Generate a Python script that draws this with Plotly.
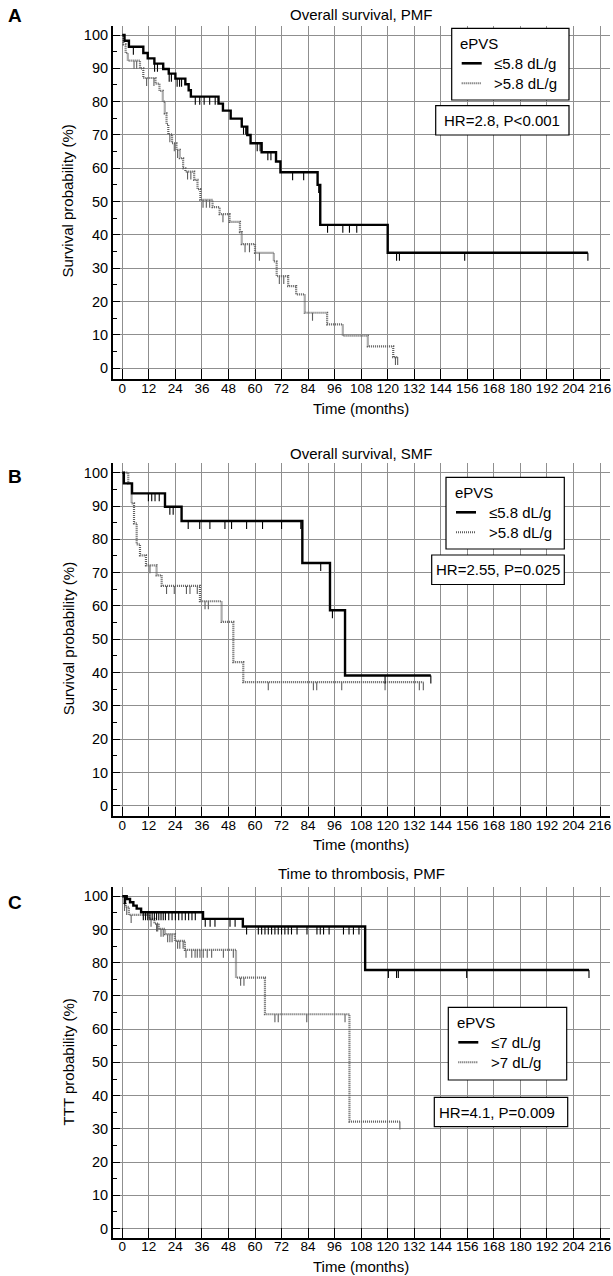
import numpy as np
import plotly.graph_objects as go

# ---------------- DATA ----------------
x_ticks = list(range(0, 217, 12))
y_ticks = list(range(0, 101, 10))

# Panel A: Overall survival, PMF
a_low_t = [0, 1.0, 3.0, 9.5, 11.5, 14.5, 18.5, 21, 24, 28.5, 30, 31, 43.5, 45.5, 49, 54, 56.5, 58, 63, 69.5, 71.5, 88.3, 89.5, 120]
a_low_s = [100, 98.3, 96.5, 94.6, 93.0, 91.4, 89.8, 88.4, 86.9, 85.2, 83.4, 81.5, 79.4, 77.3, 74.9, 72.5, 70.0, 67.5, 64.8, 62.0, 58.8, 55.0, 43.0, 34.6]
a_low_cens = [5, 14.6, 15.9, 21.2, 22.2, 24.8, 25.9, 26.8, 33, 35, 37, 39.5, 42, 54.8, 55.8, 61, 62.3, 65.8, 67.2, 77, 82, 88.8, 92.8, 99.7, 102.7, 106, 124, 125.3, 154.8, 210.5]
a_high_t = [0, 0.5, 1.5, 2.5, 8.0, 9.5, 15.0, 16.8, 18.3, 19.2, 20.0, 20.8, 22.5, 24.5, 26, 27.5, 28.5, 32.5, 34, 35.3, 40.8, 44, 48.5, 53.2, 54, 60, 68.5, 69.8, 75, 78.6, 82.5, 92.6, 99.7, 111, 122.5]
a_high_s = [100, 97.2, 94.6, 92.3, 90.0, 87.1, 85.4, 83.2, 80.0, 76.5, 73.2, 70.2, 67.5, 65.5, 63, 60, 59, 56.5, 53.7, 50.5, 48.3, 46.2, 43.9, 40.8, 37.2, 34.6, 32, 27.6, 24.6, 22.1, 16.6, 13.1, 9.7, 6.5, 3.3]
a_high_cens = [5.3, 6.5, 11, 14.3, 21.5, 23.5, 25, 29.5, 31, 36.5, 38, 39.5, 45.5, 55.5, 57.5, 62, 71, 73, 86, 123.5, 124.5]

# Panel B: Overall survival, SMF
b_low_t = [0, 0.7, 4.4, 19.3, 26.8, 81.4, 93.9, 100.7]
b_low_s = [100, 96.8, 93.8, 89.8, 85.5, 72.9, 58.7, 39.1]
b_low_cens = [11.8, 13.3, 14.8, 16.7, 21.5, 23, 29.8, 35, 39.6, 46.4, 49.4, 56.2, 63.4, 72, 80.7, 89.7, 95, 118.8, 139.5]
b_high_t = [0, 2.7, 4.2, 5.3, 6.5, 8.0, 10.7, 15.5, 17.8, 35.1, 44.9, 50.2, 54.7]
b_high_s = [100, 96.8, 90.8, 84.8, 78.5, 75.2, 72.2, 69.2, 66.0, 61.4, 55.2, 43.1, 37.1]
b_high_cens = [12.5, 20, 23.5, 29, 30.6, 33.9, 37.4, 38.9, 66, 86.4, 87.9, 99.2, 118.8, 134.3, 136.1]

# Panel C: Time to thrombosis, PMF
c_low_t = [0, 2.0, 3.5, 5.0, 6.5, 8.5, 36.5, 54.5, 109.8]
c_low_s = [100, 99.2, 98.2, 97.2, 96.3, 95.2, 93.2, 90.9, 77.8]
c_low_cens = [1.0, 1.5, 9.5, 10.5, 11.5, 12.5, 13.5, 14.5, 15.5, 16.5, 17.5, 18.5, 19.5, 21, 22.5, 24, 25.5, 27, 28.5, 30, 31.5, 33,
              37.5, 39.7, 41.9, 48.7, 51, 56.2, 61.5, 63, 64.5, 66, 67.5, 69, 70.5, 72, 73.5, 75, 76.5, 79, 83.5, 88, 89.5, 91,
              93.5, 100, 102.5, 104.5, 107, 120.3, 124, 124.8, 155.7, 211]
c_high_t = [0, 0.8, 1.5, 3.0, 12.2, 14.5, 16.5, 19.3, 23.8, 28.3, 51.4, 64.5, 102.7]
c_high_s = [100, 98, 96.8, 94.4, 93.2, 91.8, 90.2, 88.6, 86.6, 83.9, 75.5, 64.5, 32.2]
c_high_cens = [1.0, 2.0, 4.0, 13, 15.5, 16, 17.5, 18.5, 20.5, 21.5, 22.5, 25, 26, 27.5, 28.8, 31.4, 32.9, 33.9, 35.1, 36.6,
               38.4, 40.4, 45.7, 50.2, 53.5, 55, 69, 70.5, 83.4, 100.7, 125.5]

titles = ["Overall survival, PMF", "Overall survival, SMF", "Time to thrombosis, PMF"]
ytitles = ["Survival probability (%)", "Survival probability (%)", "TTT probability (%)"]
letters = ["A", "B", "C"]
legend_labels = [["≤5.8 dL/g", ">5.8 dL/g"], ["≤5.8 dL/g", ">5.8 dL/g"], ["≤7 dL/g", ">7 dL/g"]]
hr_texts = ["HR=2.8, P<0.001", "HR=2.55, P=0.025", "HR=4.1, P=0.009"]

# ---------------- LAYOUT CONSTANTS ----------------
W, H = 613, 1276
FONT = "Liberation Sans, Arial, sans-serif"
X_LEFT, X_RIGHT = 112.7, 610.0
X_RANGE = [-4.34, 220.5]
Y_RANGES = [[-3.2, 102.8], [-3.2, 102.8], [-2.7, 102.8]]
# pixel tops/bottoms of each panel's plot area
panel_px = [(25.7, 378.7), (463.4, 816.4), (887.0, 1237.5)]
title_py = [15, 453.5, 873.5]
xtitle_py = [408, 844, 1266]
letter_py = [16, 476, 902]
legend_boxes = [(451.7, 28.3, 569, 100), (446, 477.3, 564.3, 549), (448.3, 1007.3, 566.7, 1080)]
hr_boxes = [(435.7, 105.7, 569, 135), (431.7, 555, 564.3, 584.5), (434.3, 1097.3, 567.7, 1126.7)]

def px(x):
    return x / W

def py(y):
    return 1 - y / H

BLACK = "#000000"
GRAY = "#5f5f5f"
GRID = "#8f8f8f"

fig = go.Figure()

curves = [
    (a_low_t, a_low_s, a_low_cens, a_high_t, a_high_s, a_high_cens),
    (b_low_t, b_low_s, b_low_cens, b_high_t, b_high_s, b_high_cens),
    (c_low_t, c_low_s, c_low_cens, c_high_t, c_high_s, c_high_cens),
]


def step_value(ts, ss, t):
    idx = np.searchsorted(np.array(ts), t, side="right") - 1
    return float(np.array(ss)[max(idx, 0)])


def add_km(i, ts, ss, cens, color, width, dash):
    xa = "x" if i == 0 else f"x{i+1}"
    ya = "y" if i == 0 else f"y{i+1}"
    end = max(max(cens), ts[-1])
    xs = list(ts) + [end]
    ys = list(ss) + [ss[-1]]
    fig.add_trace(go.Scatter(x=xs, y=ys, mode="lines", line=dict(color=color, width=width, dash=dash, shape="hv"),
                             xaxis=xa, yaxis=ya, showlegend=False, hoverinfo="skip"))
    cy = [step_value(ts, ss, c) for c in cens]
    fig.add_trace(go.Scatter(x=cens, y=cy, mode="markers", marker=dict(size=2, color="rgba(0,0,0,0)"),
                             error_y=dict(type="data", symmetric=False, array=[0] * len(cens),
                                          arrayminus=[2.4] * len(cens), width=0, thickness=1.1, color=color),
                             xaxis=xa, yaxis=ya, showlegend=False, hoverinfo="skip"))


for i, (lt, ls, lc, ht, hs, hc) in enumerate(curves):
    add_km(i, ht, hs, hc, GRAY, 2.2, "1px,1px")
    add_km(i, lt, ls, lc, BLACK, 2.4, "solid")

xtick_font = dict(family=FONT, size=13.5, color="black")
ytick_font = dict(family=FONT, size=14.5, color="black")
layout = dict(width=W, height=H, autosize=False, margin=dict(l=0, r=0, t=0, b=0),
              paper_bgcolor="white", plot_bgcolor="white", font=dict(family=FONT, color="black"))

for i, (top, bot) in enumerate(panel_px):
    xk = "xaxis" if i == 0 else f"xaxis{i+1}"
    yk = "yaxis" if i == 0 else f"yaxis{i+1}"
    yid = "y" if i == 0 else f"y{i+1}"
    xid = "x" if i == 0 else f"x{i+1}"
    layout[xk] = dict(domain=[px(X_LEFT), px(X_RIGHT)], anchor=yid, range=X_RANGE, tickvals=x_ticks,
                      ticks="inside", ticklen=10, tickcolor="black", tickwidth=1, ticklabelstandoff=-4,
                      showgrid=True, gridcolor=GRID, gridwidth=1, zeroline=False,
                      showline=True, linecolor="black", linewidth=1.5, tickfont=xtick_font, automargin=False)
    layout[yk] = dict(domain=[py(bot), py(top)], anchor=xid, range=Y_RANGES[i], tickvals=y_ticks,
                      ticks="inside", ticklen=8, tickcolor="black", tickwidth=1,
                      minor=dict(tickvals=list(range(5, 100, 10)), ticks="inside", ticklen=5, tickcolor="black", showgrid=False),
                      showgrid=True, gridcolor=GRID, gridwidth=1, zeroline=False,
                      showline=True, linecolor="black", linewidth=1.5, tickfont=ytick_font, automargin=False)

fig.update_layout(**layout)

shapes = []
annotations = []
cx = px((X_LEFT + X_RIGHT) / 2)
for i in range(3):
    yid = "y" if i == 0 else f"y{i+1}"
    annotations.append(dict(text=titles[i], x=cx, y=py(title_py[i]), xref="paper", yref="paper",
                            xanchor="center", yanchor="middle", showarrow=False, font=dict(family=FONT, size=15)))
    annotations.append(dict(text="Time (months)", x=cx, y=py(xtitle_py[i]), xref="paper", yref="paper",
                            xanchor="center", yanchor="middle", showarrow=False, font=dict(family=FONT, size=15)))
    annotations.append(dict(text=ytitles[i], x=px(68), y=50, xref="paper", yref=yid, textangle=-90,
                            xanchor="center", yanchor="middle", showarrow=False, font=dict(family=FONT, size=15)))
    annotations.append(dict(text=f"<b>{letters[i]}</b>", x=px(6), y=py(letter_py[i]), xref="paper", yref="paper",
                            xanchor="left", yanchor="middle", showarrow=False, font=dict(family=FONT, size=19)))
    # legend box
    x0, y0, x1, y1 = legend_boxes[i]
    shapes.append(dict(type="rect", xref="paper", yref="paper", x0=px(x0), x1=px(x1), y0=py(y1), y1=py(y0),
                       line=dict(color="black", width=1.2), fillcolor="white", layer="above"))
    annotations.append(dict(text="ePVS", x=px(x0 + 6.5), y=py(y0 + 15.5), xref="paper", yref="paper",
                            xanchor="left", yanchor="middle", showarrow=False, font=dict(family=FONT, size=15)))
    for j, (col, dash, wd) in enumerate([(BLACK, "solid", 2.6), (GRAY, "1px,1px", 2.0)]):
        ly = y0 + 35 + 20 * j
        shapes.append(dict(type="line", xref="paper", yref="paper", x0=px(x0 + 10), x1=px(x0 + 30), y0=py(ly), y1=py(ly),
                           line=dict(color=col, width=wd, dash=dash), layer="above"))
        annotations.append(dict(text=legend_labels[i][j], x=px(x0 + 40.5), y=py(ly), xref="paper", yref="paper",
                                xanchor="left", yanchor="middle", showarrow=False, font=dict(family=FONT, size=15)))
    # HR box
    x0, y0, x1, y1 = hr_boxes[i]
    shapes.append(dict(type="rect", xref="paper", yref="paper", x0=px(x0), x1=px(x1), y0=py(y1), y1=py(y0),
                       line=dict(color="black", width=1.2), fillcolor="white", layer="above"))
    if i == 2:
        annotations.append(dict(text=hr_texts[i], x=px(x0 + 2.5), y=py((y0 + y1) / 2), xref="paper", yref="paper",
                                xanchor="left", yanchor="middle", showarrow=False, font=dict(family=FONT, size=15)))
    else:
        annotations.append(dict(text=hr_texts[i], x=px((x0 + x1) / 2), y=py((y0 + y1) / 2), xref="paper", yref="paper",
                                xanchor="center", yanchor="middle", showarrow=False, font=dict(family=FONT, size=15)))

fig.update_layout(shapes=shapes, annotations=annotations)

fig.write_html("out.html", config={"displayModeBar": False},
               post_script="document.body.style.margin='0';")
